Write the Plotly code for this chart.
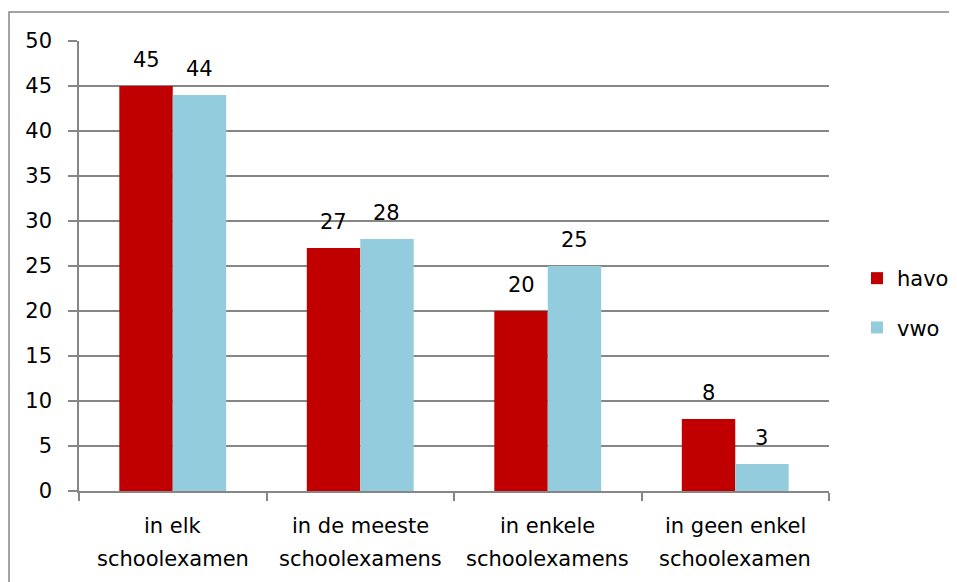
import plotly.graph_objects as go

categories = ["in elk schoolexamen", "in de meeste schoolexamens",
              "in enkele schoolexamens", "in geen enkel schoolexamen"]
cat_line1 = ["in elk", "in de meeste", "in enkele", "in geen enkel"]
cat_line2 = ["schoolexamen", "schoolexamens", "schoolexamens", "schoolexamen"]
havo = [45, 27, 20, 8]
vwo = [44, 28, 25, 3]
y_ticks = [0, 5, 10, 15, 20, 25, 30, 35, 40, 45, 50]

FONT = "DejaVu Sans, sans-serif"
FS = 21
# page has an 8px body margin; figure is sized to fit the 957x582 window
W, H = 949, 574
ML, MT = 71, 33
PW, PH = 750, 450
MR, MB = W - ML - PW, H - MT - PH
BOTTOM = MT + PH

fig = go.Figure()
fig.add_trace(go.Bar(name="havo", x=categories, y=havo, marker_color="#C00000",
                     marker_line_width=0, legendgroup="a"))
fig.add_trace(go.Bar(name="vwo", x=categories, y=vwo, marker_color="#93CDDD",
                     marker_line_width=0, legendgroup="b"))

ann = []
bw = PW / 4 * (1 - 0.43) / 2
for c, hv, vv in zip(categories, havo, vwo):
    ann.append(dict(x=c, y=hv, xref="x", yref="y", text=str(hv), showarrow=False,
                    xshift=-bw / 2, yshift=26, yanchor="middle",
                    font=dict(family=FONT, size=FS, color="#000")))
    ann.append(dict(x=c, y=vv, xref="x", yref="y", text=str(vv), showarrow=False,
                    xshift=bw / 2, yshift=26, yanchor="middle",
                    font=dict(family=FONT, size=FS, color="#000")))
for c, l1, l2 in zip(categories, cat_line1, cat_line2):
    ann.append(dict(x=c, y=0, xref="x", yref="y", text=l1, showarrow=False,
                    yshift=-35, yanchor="middle",
                    font=dict(family=FONT, size=FS, color="#000")))
    ann.append(dict(x=c, y=0, xref="x", yref="y", text=l2, showarrow=False,
                    yshift=-68, yanchor="middle",
                    font=dict(family=FONT, size=FS, color="#000")))

fig.update_layout(
    width=W, height=H,
    margin=dict(l=ML, r=MR, t=MT, b=MB, pad=0, autoexpand=False),
    paper_bgcolor="white", plot_bgcolor="white",
    barmode="group", bargap=0.43, bargroupgap=0,
    font=dict(family=FONT, size=FS, color="#000"),
    annotations=ann,
    legend=dict(x=(849 - ML) / PW, y=(BOTTOM - 250) / PH, xanchor="left", yanchor="top",
                font=dict(family=FONT, size=FS, color="#000"),
                traceorder="grouped", tracegroupgap=19, bgcolor="rgba(0,0,0,0)"),
    xaxis=dict(showticklabels=False, ticks="outside", tickson="boundaries",
               ticklen=8, tickcolor="#868686", tickwidth=1.5,
               showline=True, linecolor="#868686", linewidth=1.5,
               showgrid=False, zeroline=False),
    yaxis=dict(range=[0, 50], tickvals=y_ticks, ticks="outside", ticklen=9,
               tickcolor="#868686", tickwidth=1.5, showline=True,
               linecolor="#868686", linewidth=1.5, showgrid=True,
               gridcolor="#868686", gridwidth=1.5, zeroline=False,
               ticklabelstandoff=12,
               tickfont=dict(family=FONT, size=FS, color="#000")),
    shapes=[dict(type="rect", xref="paper", yref="paper",
                 x0=(1 - ML) / PW, x1=(W + 10 - ML) / PW,
                 y0=(BOTTOM - (H + 10)) / PH, y1=(BOTTOM - 4) / PH,
                 line=dict(color="#868686", width=1.5), layer="below")],
)

fig.write_html("out.html")
